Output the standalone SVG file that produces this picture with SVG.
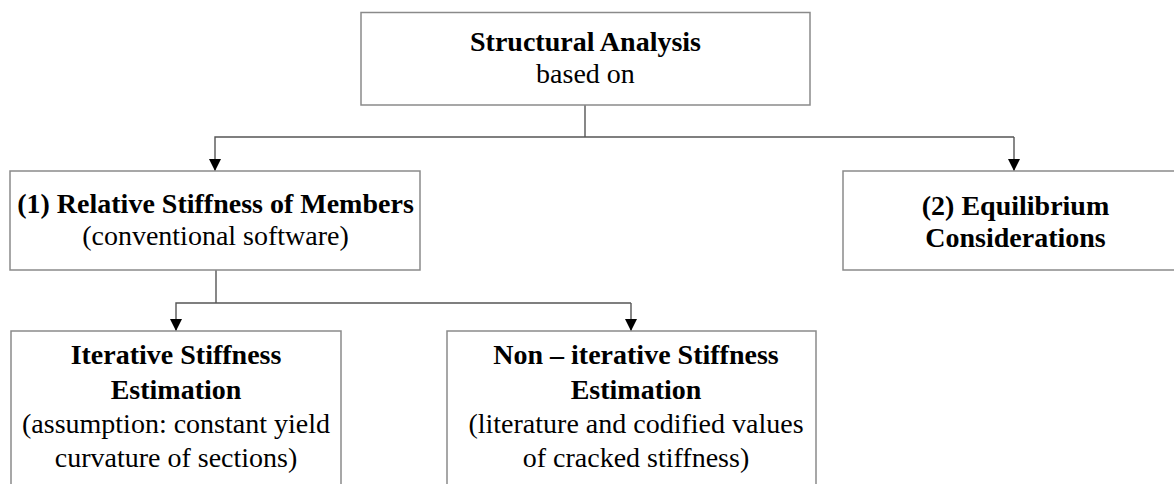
<svg xmlns="http://www.w3.org/2000/svg" width="1174" height="484" viewBox="0 0 1174 484">
<style>
.box{fill:#fff;stroke:#8a8a8a;stroke-width:1.5}
.t{font-family:'Liberation Serif','Times New Roman',Times,serif;font-size:28px;fill:#000;text-anchor:middle}
.b{font-weight:bold}
.c{fill:none;stroke:#555;stroke-width:1.4}
</style>
<defs>
<marker id="ah" viewBox="0 0 12 12" refX="12" refY="6" markerWidth="12" markerHeight="12" markerUnits="userSpaceOnUse" orient="auto">
<path d="M0,0 L12,6 L0,12 Z" fill="#000"/>
</marker>
</defs>
<rect width="1174" height="484" fill="#fff"/>
<g id="connectors">
<path class="c" d="M585,105 V137"/>
<path class="c" d="M1014,137 H215 V171" marker-end="url(#ah)"/>
<path class="c" d="M1014,137 V171" marker-end="url(#ah)"/>
<path class="c" d="M216,270 V303"/>
<path class="c" d="M631,303 H176 V331" marker-end="url(#ah)"/>
<path class="c" d="M631,303 V331" marker-end="url(#ah)"/>
</g>
<g id="n-root">
<rect class="box" x="361" y="12.5" width="449" height="92.5"/>
<text class="t b" x="585.5" y="51" font-family="Liberation Serif, serif">Structural Analysis</text>
<text class="t" x="585.5" y="83" font-family="Liberation Serif, serif">based on</text>
</g>
<g id="n-relative">
<rect class="box" x="10" y="171" width="410" height="99"/>
<text class="t b" x="215.5" y="213">(1) Relative Stiffness of Members</text>
<text class="t" x="215.5" y="245">(conventional software)</text>
</g>
<g id="n-equilibrium">
<rect class="box" x="843" y="171" width="344" height="99"/>
<text class="t b" x="1015.5" y="215">(2) Equilibrium</text>
<text class="t b" x="1015.5" y="247">Considerations</text>
</g>
<g id="n-iterative">
<rect class="box" x="11" y="331" width="330" height="170"/>
<text class="t b" x="176" y="364">Iterative Stiffness</text>
<text class="t b" x="176" y="399">Estimation</text>
<text class="t" x="176" y="433">(assumption: constant yield</text>
<text class="t" x="176" y="467">curvature of sections)</text>
</g>
<g id="n-noniterative">
<rect class="box" x="447" y="331" width="369" height="170"/>
<text class="t b" x="636" y="364">Non – iterative Stiffness</text>
<text class="t b" x="636" y="399">Estimation</text>
<text class="t" x="636" y="433">(literature and codified values</text>
<text class="t" x="636" y="467">of cracked stiffness)</text>
</g>
</svg>
